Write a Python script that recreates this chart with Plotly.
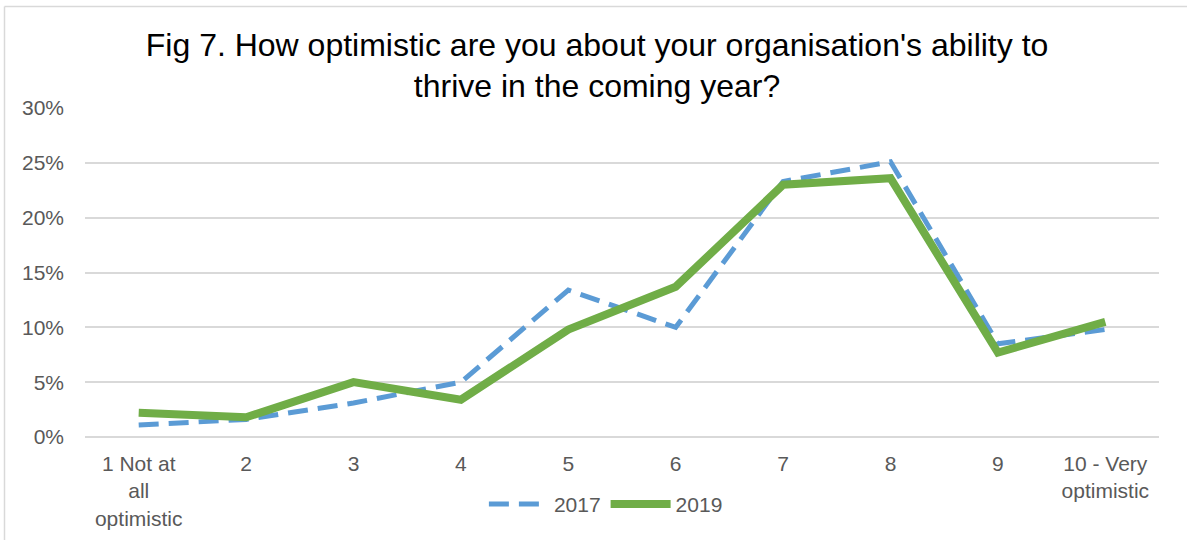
import plotly.graph_objects as go

# categorias e valores (fracção das respostas)
categorias = ["1 Not at<br>all<br>optimistic", "2", "3", "4", "5", "6", "7", "8", "9",
              "10 - Very<br>optimistic"]
valores_2017 = [0.011, 0.016, 0.031, 0.050, 0.134, 0.100, 0.233, 0.251, 0.085, 0.098]
valores_2019 = [0.022, 0.018, 0.050, 0.034, 0.098, 0.137, 0.230, 0.236, 0.077, 0.105]
y_ticks = [0, 0.05, 0.10, 0.15, 0.20, 0.25, 0.30]

cinza = "#595959"

fig = go.Figure()
fig.add_trace(go.Scatter(
    x=categorias, y=valores_2017, name="2017", mode="lines",
    line=dict(color="#5B9BD5", width=5, dash="20px,10px")
))
fig.add_trace(go.Scatter(
    x=categorias, y=valores_2019, name="2019", mode="lines",
    line=dict(color="#70AD47", width=8)
))

fig.update_layout(
    width=1187, height=540,
    margin=dict(l=85, r=28, t=108, b=103, autoexpand=False),
    plot_bgcolor="white", paper_bgcolor="white",
    font=dict(family="Liberation Sans, Arial, sans-serif", size=21, color=cinza),
    title=dict(
        text="Fig 7. How optimistic are you about your organisation's ability to<br>thrive in the coming year?",
        x=0.503, xanchor="center", y=0.897, yanchor="top",
        font=dict(size=32, color="#000000")
    ),
    legend=dict(orientation="h", x=0.485, xanchor="center", y=-0.205, yanchor="middle",
                font=dict(size=21, color=cinza), itemwidth=60, bgcolor="rgba(0,0,0,0)"),
    showlegend=True,
)

fig.update_xaxes(type="category", showgrid=False, showline=False, zeroline=False,
                 automargin=False, ticks="", range=[-0.5, 9.5], ticklabelstandoff=12,
                 tickfont=dict(size=21, color=cinza))
fig.update_yaxes(range=[0, 0.3], tickvals=y_ticks, tickformat=".0%", automargin=False,
                 showgrid=True, gridcolor="#D9D9D9", gridwidth=1.5,
                 zeroline=True, zerolinecolor="#D9D9D9", zerolinewidth=1.5,
                 ticks="", ticklabelstandoff=20, tickfont=dict(size=21, color=cinza))

# moldura do gráfico (estilo Excel)
fig.add_shape(type="line", xref="paper", yref="paper",
              x0=(4.5 - 85) / 1074, x1=1.1, y0=(437 - 6.5) / 329, y1=(437 - 6.5) / 329,
              line=dict(color="#D9D9D9", width=1.5))
fig.add_shape(type="line", xref="paper", yref="paper",
              x0=(4.5 - 85) / 1074, x1=(4.5 - 85) / 1074, y0=(437 - 6.5) / 329, y1=-0.5,
              line=dict(color="#D9D9D9", width=1.5))

fig.write_html("out.html", config={"displayModeBar": False},
               post_script="document.body.style.margin='0px';")
